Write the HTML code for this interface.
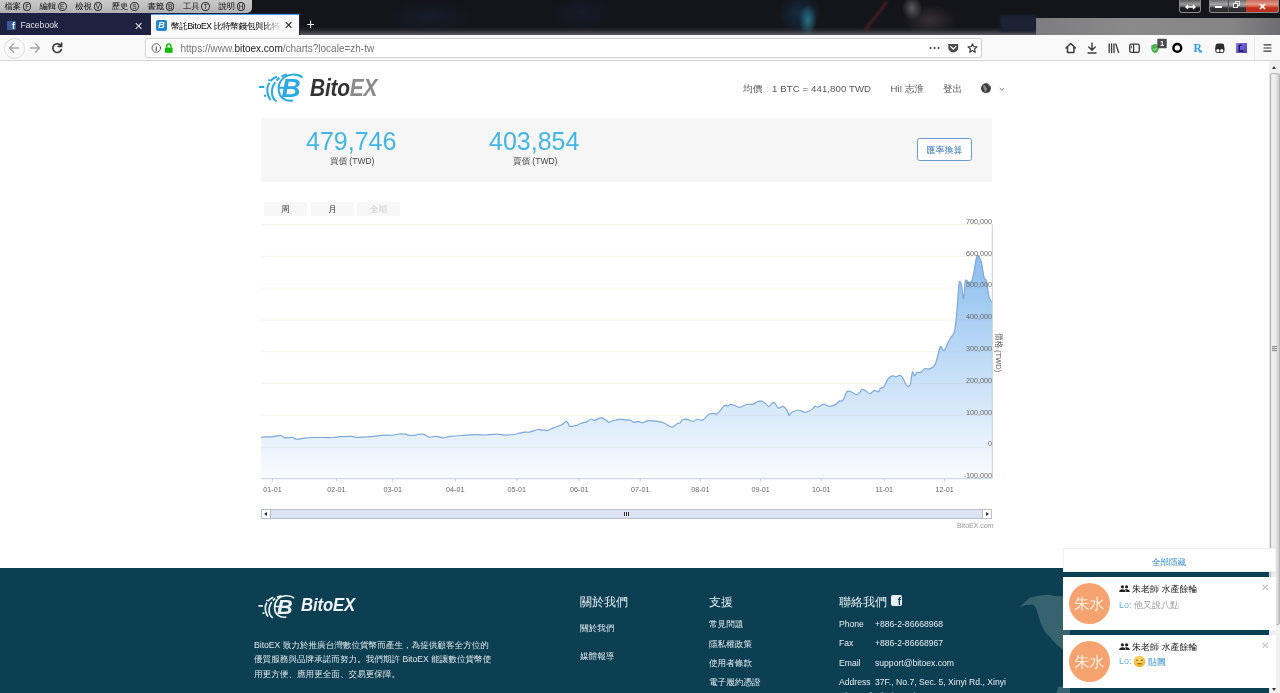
<!DOCTYPE html>
<html><head><meta charset="utf-8">
<style>
*{margin:0;padding:0;box-sizing:border-box}
html,body{width:1280px;height:693px;overflow:hidden;background:#fff;font-family:"Liberation Sans","WenQuanYi Zen Hei","Noto Sans CJK TC",sans-serif}
.a{position:absolute}
#wall{left:0;top:0;width:1280px;height:35px;background:
radial-gradient(ellipse 9px 16px at 808px 20px,rgba(45,140,160,.75),transparent),
radial-gradient(ellipse 22px 20px at 800px 14px,rgba(25,60,95,.6),transparent),
radial-gradient(ellipse 40px 18px at 430px 16px,rgba(25,35,60,.5),transparent),
radial-gradient(ellipse 30px 18px at 582px 12px,rgba(25,35,60,.45),transparent),
radial-gradient(ellipse 10px 12px at 912px 8px,rgba(150,145,145,.55),transparent),
radial-gradient(ellipse 26px 16px at 930px 20px,rgba(95,80,80,.45),transparent),
linear-gradient(#131419,#14161b 78%,#2a2c31 88%,#5a5c60);}
#menu{left:0;top:0;width:252px;height:13px;background:linear-gradient(#c9c9c9,#bdbdbd 60%,#b0b0b0);border-radius:0 0 5px 0;font-size:8.3px;color:#0a0a0a;}
#menu .ci{display:inline-block;font-style:normal;width:8.6px;height:9px;border:0.9px solid #333;border-radius:50%;font-size:6.6px;line-height:7.6px;text-align:center;margin-left:1.8px;vertical-align:0px;color:#111}
#menu span{position:absolute;top:1px;white-space:nowrap;font-family:"Liberation Sans","WenQuanYi Zen Hei",sans-serif}
#tabbar{left:0;top:13px;width:300px;height:22px;background:#1f2140}
.tabt{font-size:8.6px;white-space:nowrap}
#toolbar{left:0;top:35px;width:1280px;height:26px;background:#f9f9fa;border-bottom:1px solid #d6d6d6}
#url{left:145px;top:38px;width:837px;height:20px;background:#fff;border:1px solid #cfcfd4;border-radius:2px}
#page{left:0;top:61px;width:1269px;height:632px;background:#fff;overflow:hidden}
#vscroll{left:1269px;top:61px;width:11px;height:632px;background:#f0f0f0;border-left:1px solid #e4e4e4}
#footer{left:0;top:568px;width:1269px;height:125px;background:#0d3f52}
.ft{color:#e6eef2;white-space:nowrap}
</style></head><body>

<!-- desktop wallpaper strip -->
<div id="wall" class="a"></div>
<div class="a" style="left:875px;top:-2px;width:2px;height:36px;background:rgba(140,40,40,.55);transform:rotate(38deg);filter:blur(1px)"></div>
<div class="a" style="left:1000px;top:15px;width:36px;height:17px;background:#1c2233;filter:blur(1px)"></div>
<div class="a" style="left:1036px;top:18px;width:244px;height:17px;background:linear-gradient(90deg,#7d7d7f,#8a8a8b 40%,#858586 80%,#6e6e70)"></div>

<!-- menu -->
<div id="menu" class="a">
<span style="left:4.5px">檔案<i class="ci">F</i></span><span style="left:39.6px">編輯<i class="ci">E</i></span><span style="left:75.2px">檢視<i class="ci">V</i></span><span style="left:111.8px">歷史<i class="ci">S</i></span><span style="left:147.4px">書籤<i class="ci">B</i></span><span style="left:183px">工具<i class="ci">T</i></span><span style="left:218.5px">說明<i class="ci">H</i></span>
</div>

<!-- window buttons -->
<div class="a" style="left:1179px;top:0;width:22px;height:12.5px;border:1px solid #8a8a8a;border-top:none;border-radius:0 0 3px 3px;background:linear-gradient(#5a5a5c,#9a9a9c 35%,#6a6a6c 55%,#1c1c1e 65%,#1a1a1c)"></div>
<svg class="a" style="left:1184.5px;top:3.5px" width="11" height="6" viewBox="0 0 11 6"><path d="M1 3 H10 M3 1 L1 3 L3 5 M8 1 L10 3 L8 5" fill="none" stroke="#fff" stroke-width="1.3"/></svg>
<div class="a" style="left:1209px;top:0;width:70px;height:12.5px;border:1px solid #8a8a8a;border-top:none;border-radius:0 0 3px 3px;background:linear-gradient(#6a6a6c,#a6a6a8 35%,#7a7a7c 55%,#333336 65%,#2a2a2c)"></div>
<div class="a" style="left:1228px;top:0;width:1px;height:12px;background:#555"></div>
<div class="a" style="left:1214.5px;top:5.5px;width:7px;height:2px;background:#fff"></div>
<div class="a" style="left:1234.5px;top:1.2px;width:5px;height:5px;border:1px solid #ddd"></div><div class="a" style="left:1233px;top:2.8px;width:5px;height:5px;border:1.3px solid #eee;background:#555"></div>
<div class="a" style="left:1246px;top:0;width:33px;height:12.5px;border:1px solid #8a8a8a;border-top:none;border-left:none;border-radius:0 0 3px 0;background:linear-gradient(#c86a5a,#e59a88 35%,#d65a40 55%,#c0301a 65%,#b83020)"></div>
<svg class="a" style="left:1258.5px;top:2.5px" width="7" height="7" viewBox="0 0 7 7"><path d="M1 1 L6 6 M6 1 L1 6" stroke="#fff" stroke-width="1.7"/></svg>

<!-- tabs -->
<div id="tabbar" class="a"></div>
<div class="a" style="left:7px;top:21px;width:9px;height:9px;background:#3b5998;border-radius:1px;color:#fff;font:bold 9px 'Liberation Sans';text-align:right;line-height:11px;overflow:hidden;padding-right:1px">f</div>
<div class="a tabt" style="left:20.5px;top:19.6px;color:#e0e0ea">Facebook</div>
<div class="a" style="left:134px;top:19.5px;color:#ddd;font-size:11px">✕</div>
<div class="a" style="left:151px;top:14px;width:148px;height:21px;background:#f9f9fa;border-top:1.5px solid #4a9cef"></div>
<div class="a" style="left:156px;top:19.5px;width:11px;height:11px;background:#1f8ad3;border-radius:2px;color:#fff;font:italic bold 9px 'Liberation Sans';text-align:center;line-height:11px">B</div>
<div class="a tabt" style="left:171px;top:20.5px;color:#000;letter-spacing:-0.35px;width:110px;overflow:hidden;-webkit-mask-image:linear-gradient(90deg,#000 85%,transparent)">幣託BitoEX 比特幣錢包與比特幣</div>
<div class="a" style="left:284px;top:19px;color:#222;font-size:11px">✕</div>
<div class="a" style="left:306.5px;top:16px;color:#eee;font-size:14px">+</div>

<!-- toolbar -->
<div id="toolbar" class="a"></div>
<div id="url" class="a"></div>
<!-- toolbar icons -->
<div class="a" style="left:3.5px;top:37.5px;width:21px;height:21px;border-radius:50%;border:1px solid #dcdcdc;background:#f9f9fa"></div>
<svg class="a" style="left:0;top:35px" width="1280" height="26" viewBox="0 35 1280 26">
<g fill="none" stroke-linecap="round" stroke-linejoin="round">
<path d="M9.5 48 H18.5 M13.5 43.8 L9.5 48 L13.5 52.2" stroke="#a8a8aa" stroke-width="1.5"/>
<path d="M30.5 48 H39.5 M35.5 43.8 L39.5 48 L35.5 52.2" stroke="#a8a8aa" stroke-width="1.5"/>
<path d="M60.8 45.5 A4.4 4.4 0 1 0 61.4 49.5" stroke="#333" stroke-width="1.6"/>
<path d="M61.6 43 V46.4 H58.2" stroke="#333" stroke-width="1.6"/>
<circle cx="156.3" cy="48" r="4.3" stroke="#555" stroke-width="0.9"/>
<path d="M156.3 46.8 V50.5" stroke="#555" stroke-width="1.1"/>
<path d="M1066 48 L1070.7 43.5 L1075.4 48 M1067.5 46.8 V52.5 H1073.9 V46.8" stroke="#3b3b3b" stroke-width="1.5"/>
<path d="M1092 43 V50 M1088.8 47 L1092 50.2 L1095.2 47 M1088 53 H1096" stroke="#3b3b3b" stroke-width="1.4"/>
<path d="M1109.2 44 V52.5 M1111.6 44 V52.5 M1114 44 V52.5 M1115.8 44 L1118.6 52.5" stroke="#3b3b3b" stroke-width="1.3"/>
<rect x="1129.7" y="44.2" width="9.6" height="8.2" rx="1.6" stroke="#3b3b3b" stroke-width="1.3"/>
<path d="M1133.6 44.5 V52.2" stroke="#3b3b3b" stroke-width="1.3"/>
<path d="M1131.4 46 V48" stroke="#3b3b3b" stroke-width="0.9"/>
<circle cx="1177.3" cy="47.9" r="3.9" stroke="#000" stroke-width="2.4"/>
<path d="M1264 44.8 H1271 M1264 48 H1271 M1264 51.2 H1271" stroke="#3b3b3b" stroke-width="1.2"/>
<path d="M930.5 48 h0.1 M934.5 48 h0.1 M938.5 48 h0.1" stroke="#444" stroke-width="2"/>
<path d="M968 46.8 L971.3 46.6 L972.5 43.7 L973.7 46.6 L977 46.8 L974.5 49 L975.3 52.3 L972.5 50.5 L969.7 52.3 L970.5 49 Z" stroke="#3b3b3b" stroke-width="1.1"/>
</g>
<path d="M948.3 44 H958.2 V47.6 A4.95 4.95 0 0 1 948.3 47.6 Z" fill="#4a4a4f"/>
<path d="M950.8 46.6 L953.25 49 L955.7 46.6" fill="none" stroke="#fff" stroke-width="1.3" stroke-linecap="round" stroke-linejoin="round"/>
<path d="M165 47.5 H172.6 V52.8 H165 Z" fill="#12bc00"/>
<path d="M166.7 47.6 V46 A2.1 2.1 0 0 1 170.9 46 V47.6" fill="none" stroke="#12bc00" stroke-width="1.5"/>
<path d="M1151.2 45.5 L1155 43.8 L1158.8 45.5 V48.5 C1158.8 50.8 1157 52.4 1155 53.2 C1153 52.4 1151.2 50.8 1151.2 48.5 Z" fill="#4caf50"/>
<path d="M1153.2 48.8 L1154.6 50.2 L1157 47.6" fill="none" stroke="#c9f0c9" stroke-width="0.9"/>
<rect x="1157.3" y="38.8" width="9.4" height="9.4" rx="0.8" fill="#4b4b4d"/>
<text x="1162" y="46.3" font-family="Liberation Sans" font-size="7.5" font-weight="bold" fill="#fff" text-anchor="middle">1</text>
<text x="1193.6" y="52.3" font-family="Liberation Serif" font-size="11.5" font-weight="bold" fill="#2a9fd8">R</text>
<text x="1199" y="53" font-family="Liberation Serif" font-size="7" font-weight="bold" fill="#2a9fd8">x</text>
<path d="M1215.5 46 Q1215.5 43.4 1218 43.4 H1221.8 Q1224.2 43.4 1224.2 46 V49.5 H1215.5 Z" fill="#2b2b2b"/>
<path d="M1215.3 47.4 H1224.4 V51 Q1224.4 53 1222.4 53 H1217.3 Q1215.3 53 1215.3 51 Z" fill="#2b2b2b"/>
<circle cx="1217.9" cy="50.7" r="1.6" fill="#fff"/><circle cx="1221.8" cy="50.7" r="1.6" fill="#fff"/>
<defs><linearGradient id="pp" x1="0" y1="0" x2="1" y2="1"><stop offset="0" stop-color="#8a7af0"/><stop offset="1" stop-color="#4b3fb8"/></linearGradient></defs>
<rect x="1236" y="43" width="11" height="10" fill="url(#pp)"/>
<path d="M1239.2 45.2 V51 H1243.5 M1239.2 45.2 H1241.6" fill="none" stroke="#1a1440" stroke-width="1.4"/>
<path d="M1254.5 36 V60" stroke="#e4e4e6" stroke-width="0.8"/>
</svg>
<div class="a" style="left:180.5px;top:43.2px;font-size:10px;color:#737373;white-space:nowrap;letter-spacing:0">https://www.<span style="color:#1a1a1a">bitoex.com</span>/charts?locale=zh-tw</div>


<!-- page -->
<div id="page" class="a"></div>
<!-- site header -->
<svg class="a" style="left:256px;top:70px" width="48.0" height="34.0" viewBox="0 0 48 34">
<g fill="none" stroke="#29a9e6" stroke-width="2" stroke-linecap="butt">
<path d="M46.5,7.5 C42,3.5 31,3 25.5,10 C21,16 22,25 27,28.5 C30,31 34,31 37,30.5"/>
<path d="M31,4.6 C24,6 17,12 16,20 C15.5,25 17.5,29.5 20.5,31.5" stroke-dasharray="6 2.2 4 2 30"/>
<path d="M21,6.5 C15,9 11.5,14 11.3,19 C11.3,24 12.5,27.5 14.7,30" stroke-dasharray="8 2 30"/>
<path d="M2.9,16.9 H8.3 M7.9,25.8 H10.3 M12.3,10.3 H14.2 M23,17.7 H28.5"/>
</g>
<text transform="translate(25.6,26.6) scale(1.06,1)" font-family="Liberation Sans" font-weight="bold" font-style="italic" font-size="25" fill="#29a9e6">B</text>
</svg>
<div class="a" style="left:309.5px;top:74.8px;font:italic bold 23.2px 'Liberation Sans';color:#333;letter-spacing:-0.2px;transform:scaleX(0.9);transform-origin:0 0">Bito<span style="color:#8a8a8a">EX</span></div>

<div class="a" style="left:743px;top:82.5px;font-size:9.6px;color:#555;white-space:nowrap;letter-spacing:0.1px">均價<span style="color:#c8c8c8">：</span>1 BTC = 441,800 TWD</div>
<div class="a" style="left:890.5px;top:82.5px;font-size:9.6px;color:#555;white-space:nowrap">Hi! 志淮</div>
<div class="a" style="left:943px;top:82.5px;font-size:9.6px;color:#555;white-space:nowrap">登出</div>
<svg class="a" style="left:980px;top:83px" width="26" height="11" viewBox="980 83 26 11">
<circle cx="986" cy="88.2" r="4.9" fill="#3c3c3c"/>
<path d="M983.2 85.3 Q984.8 84.8 985.6 86 Q985.2 87.6 986.8 88 Q987.6 89.4 986.4 90.2 Q986 91.8 985.2 92.6 Q984.4 91 984.2 89.6 Q982.8 88.6 983.2 85.3 Z M987.6 84.3 Q989.6 84.6 990.4 86.4 Q989 86.6 988.2 86 Z" fill="#8a8a8a"/>
<path d="M999.8 88.2 L1001.8 90 L1003.8 88.2" fill="none" stroke="#666" stroke-width="0.9"/>
</svg>

<!-- price panel -->
<div class="a" style="left:261px;top:118px;width:731px;height:64px;background:#f6f6f6"></div>
<div class="a" style="left:306px;top:127px;font-size:25px;color:#44b6e6;white-space:nowrap">479,746</div>
<div class="a" style="left:330px;top:156px;font-size:8.5px;color:#444;white-space:nowrap">買價 (TWD)</div>
<div class="a" style="left:489px;top:127px;font-size:25px;color:#44b6e6;white-space:nowrap">403,854</div>
<div class="a" style="left:513px;top:156px;font-size:8.5px;color:#444;white-space:nowrap">賣價 (TWD)</div>
<div class="a" style="left:917px;top:138px;width:55px;height:23px;border:1px solid #6b9dce;border-radius:2.5px;background:#fff;color:#3a77b8;font-size:9px;text-align:center;line-height:23px">匯率換算</div>

<!-- range buttons -->
<div class="a" style="left:264px;top:202px;width:43px;height:14px;background:#f7f7f7;font-size:8.5px;color:#333;text-align:center;line-height:14px">周</div>
<div class="a" style="left:311px;top:202px;width:43px;height:14px;background:#f7f7f7;font-size:8.5px;color:#333;text-align:center;line-height:14px">月</div>
<div class="a" style="left:357px;top:202px;width:43px;height:14px;background:#f7f7f7;font-size:8.5px;color:#ccc;text-align:center;line-height:14px">全期</div>
<svg class="a" style="left:0;top:0" width="1280" height="693" viewBox="0 0 1280 693" font-family="Liberation Sans" font-size="7.2" fill="#666">
<defs><linearGradient id="gf" x1="0" y1="224.5" x2="0" y2="478.5" gradientUnits="userSpaceOnUse"><stop offset="0" stop-color="#7cb5ec" stop-opacity="1"/><stop offset="1" stop-color="#7cb5ec" stop-opacity="0.04"/></linearGradient></defs>
<line x1="261" x2="992" y1="224.5" y2="224.5" stroke="#f3f1e6" stroke-width="0.8"/>
<line x1="261" x2="992" y1="256.3" y2="256.3" stroke="#f3f1e6" stroke-width="0.8"/>
<line x1="261" x2="992" y1="288.1" y2="288.1" stroke="#f3f1e6" stroke-width="0.8"/>
<line x1="261" x2="992" y1="319.9" y2="319.9" stroke="#f3f1e6" stroke-width="0.8"/>
<line x1="261" x2="992" y1="351.7" y2="351.7" stroke="#f3f1e6" stroke-width="0.8"/>
<line x1="261" x2="992" y1="383.5" y2="383.5" stroke="#f3f1e6" stroke-width="0.8"/>
<line x1="261" x2="992" y1="415.3" y2="415.3" stroke="#f3f1e6" stroke-width="0.8"/>
<line x1="261" x2="992" y1="447.1" y2="447.1" stroke="#f3f1e6" stroke-width="0.8"/>
<path d="M261.1,437.3 C261.9,437.2 263.7,437.0 265.8,436.9 C267.9,436.8 271.1,436.9 273.6,436.6 C276.1,436.4 278.8,435.2 280.7,435.4 C282.6,435.6 283.1,437.6 285.0,437.9 C286.9,438.2 290.5,437.1 292.4,437.3 C294.3,437.5 294.2,439.1 296.3,439.2 C298.4,439.3 302.2,438.4 304.9,438.1 C307.6,437.8 308.1,437.6 312.7,437.5 C317.2,437.4 327.6,437.6 332.2,437.5 C336.8,437.4 336.7,436.9 340.0,436.7 C343.3,436.5 349.2,436.2 351.8,436.3 C354.4,436.4 353.1,437.2 355.7,437.3 C358.3,437.4 363.1,437.2 367.5,436.9 C371.9,436.6 378.1,435.6 382.3,435.3 C386.5,435.0 389.8,435.4 392.5,435.2 C395.2,435.0 396.6,434.2 398.8,434.0 C401.0,433.8 404.1,434.0 405.8,434.2 C407.5,434.4 407.2,435.1 408.9,435.3 C410.6,435.5 414.5,435.4 415.9,435.2 C417.3,435.0 416.2,434.5 417.5,434.4 C418.8,434.3 421.9,433.9 423.8,434.4 C425.8,434.8 427.1,436.8 429.2,437.1 C431.3,437.4 433.8,436.2 436.2,436.3 C438.6,436.4 441.2,437.8 443.3,437.9 C445.4,438.0 445.7,437.1 448.8,436.7 C451.9,436.3 457.2,435.8 461.7,435.5 C466.2,435.2 471.9,434.8 475.8,434.7 C479.7,434.6 481.7,435.1 485.2,435.0 C488.7,434.9 493.6,434.2 496.9,434.2 C500.1,434.2 501.8,434.9 504.7,435.0 C507.6,435.1 511.4,434.9 514.0,434.5 C516.6,434.1 518.5,433.3 520.3,432.9 C522.1,432.5 523.4,432.2 525.0,432.1 C526.6,432.0 527.6,432.5 529.7,432.1 C531.8,431.7 535.4,429.8 537.5,429.5 C539.6,429.2 541.0,430.1 542.2,430.2 C543.5,430.3 544.1,430.1 545.0,430.2 C545.9,430.3 546.0,431.0 547.3,430.7 C548.6,430.4 550.6,429.0 552.8,428.1 C555.0,427.2 558.8,426.0 560.6,425.2 C562.4,424.4 562.9,423.9 563.8,423.3 C564.6,422.7 565.1,421.4 565.7,421.3 C566.4,421.2 567.1,421.7 567.7,422.5 C568.4,423.3 568.6,425.6 569.6,426.2 C570.6,426.8 572.5,426.2 573.9,426.0 C575.3,425.8 576.6,425.4 577.8,425.0 C579.0,424.6 579.3,423.9 580.9,423.3 C582.5,422.7 585.5,422.3 587.2,421.6 C588.9,420.9 589.9,419.2 591.1,419.0 C592.3,418.8 592.8,420.4 594.2,420.3 C595.6,420.2 598.3,418.6 599.7,418.2 C601.1,417.8 601.6,417.6 602.4,417.8 C603.2,418.0 603.7,418.9 604.4,419.4 C605.1,419.8 606.0,420.0 606.7,420.5 C607.4,421.0 607.5,422.3 608.7,422.3 C609.9,422.3 611.9,421.0 613.8,420.5 C615.7,420.0 618.0,419.5 620.0,419.4 C622.0,419.3 623.7,419.6 625.5,419.8 C627.3,420.0 629.6,420.1 630.9,420.5 C632.2,420.9 632.0,421.9 633.3,422.1 C634.6,422.3 637.2,421.5 638.8,421.6 C640.4,421.7 641.3,422.8 642.8,422.7 C644.2,422.6 645.3,421.2 647.5,420.9 C649.7,420.6 653.2,420.7 656.1,421.1 C659.0,421.5 662.1,422.3 664.7,423.3 C667.3,424.3 669.6,426.9 671.7,427.0 C673.8,427.1 675.8,424.5 677.2,423.8 C678.6,423.1 679.5,423.4 680.3,422.7 C681.1,422.0 681.0,420.5 681.9,419.9 C682.8,419.3 684.5,419.1 685.8,419.1 C687.1,419.2 688.5,419.8 689.7,420.2 C690.9,420.6 691.6,421.6 692.8,421.5 C694.0,421.4 695.0,419.8 696.7,419.5 C698.4,419.2 701.0,420.7 703.0,419.9 C705.0,419.1 706.7,415.6 708.4,414.5 C710.1,413.4 711.8,413.4 713.1,413.3 C714.4,413.2 715.2,414.4 716.2,414.1 C717.2,413.8 718.2,412.9 719.4,411.7 C720.6,410.4 722.3,407.7 723.3,406.6 C724.3,405.5 724.8,405.2 725.6,405.1 C726.4,405.0 727.2,406.3 728.0,406.2 C728.8,406.1 729.2,404.4 730.3,404.3 C731.4,404.2 733.1,405.0 734.7,405.5 C736.3,406.0 737.8,407.5 739.8,407.3 C741.8,407.1 744.1,405.0 746.4,404.5 C748.7,404.0 751.6,404.7 753.4,404.2 C755.2,403.7 755.7,402.2 757.0,401.7 C758.3,401.2 759.8,401.0 761.2,401.2 C762.6,401.4 764.0,402.0 765.2,402.9 C766.5,403.8 767.5,406.7 768.7,406.6 C769.9,406.5 771.6,403.1 772.6,402.5 C773.6,401.9 773.9,402.4 774.9,403.3 C775.9,404.2 777.0,407.6 778.4,408.1 C779.8,408.6 781.7,406.0 783.1,406.4 C784.5,406.8 786.0,408.8 787.0,410.3 C788.0,411.8 788.4,414.9 789.0,415.4 C789.6,415.8 789.7,413.8 790.9,413.0 C792.1,412.2 794.8,410.9 796.4,410.5 C798.0,410.1 799.0,410.2 800.3,410.5 C801.6,410.8 802.8,412.2 804.2,412.3 C805.6,412.4 807.6,411.7 808.9,411.2 C810.2,410.7 811.0,410.2 812.0,409.4 C813.0,408.6 814.2,406.8 815.2,406.4 C816.2,406.0 816.9,407.4 818.3,407.0 C819.7,406.6 822.0,404.3 823.8,404.2 C825.6,404.1 827.4,406.2 829.3,406.3 C831.2,406.4 833.7,405.5 835.4,404.6 C837.1,403.7 838.5,401.5 839.7,400.9 C840.9,400.2 841.6,402.1 842.7,400.7 C843.9,399.2 845.5,393.8 846.6,392.2 C847.7,390.6 848.2,391.2 849.2,391.3 C850.2,391.4 851.5,391.9 852.7,392.5 C853.9,393.1 855.5,394.8 856.6,394.8 C857.8,394.8 858.7,393.6 859.6,392.7 C860.5,391.8 861.2,389.6 862.2,389.3 C863.2,389.0 864.4,390.0 865.7,390.7 C867.0,391.4 868.5,393.7 870.0,393.6 C871.5,393.5 873.0,390.6 874.4,390.3 C875.8,390.0 877.2,392.2 878.2,391.9 C879.2,391.6 879.5,389.3 880.4,388.4 C881.3,387.5 882.6,388.3 883.9,386.7 C885.2,385.1 886.8,380.4 888.2,378.6 C889.6,376.8 891.2,376.1 892.5,375.8 C893.8,375.5 894.8,377.0 896.0,376.9 C897.2,376.8 898.5,375.4 899.5,375.4 C900.5,375.4 900.8,375.1 902.1,376.9 C903.4,378.7 905.8,384.8 907.2,386.0 C908.6,387.2 909.4,386.4 910.3,384.1 C911.2,381.8 911.7,373.5 912.4,372.1 C913.1,370.8 913.9,375.9 914.6,376.0 C915.3,376.1 915.7,373.2 916.8,372.6 C917.9,372.0 919.8,372.8 921.1,372.1 C922.4,371.5 923.1,369.3 924.6,368.7 C926.1,368.1 928.3,369.4 930.1,368.7 C931.9,367.9 933.5,367.8 935.2,364.2 C936.9,360.6 938.9,349.5 940.2,347.1 C941.5,344.8 942.4,349.8 943.2,350.1 C944.0,350.4 944.4,350.5 945.2,349.1 C946.1,347.8 947.4,343.9 948.3,342.0 C949.2,340.1 949.8,339.2 950.8,337.5 C951.8,335.8 953.4,335.6 954.4,331.7 C955.4,327.8 956.0,320.4 956.6,314.4 C957.2,308.4 957.6,300.9 958.0,295.6 C958.4,290.4 958.8,285.1 959.2,282.9 C959.6,280.7 960.1,281.4 960.6,282.3 C961.1,283.2 961.6,285.7 962.0,288.4 C962.4,291.1 962.8,297.6 963.1,298.5 C963.5,299.4 963.8,296.9 964.1,294.1 C964.5,291.3 964.8,284.1 965.2,281.8 C965.6,279.5 966.1,280.3 966.7,280.4 C967.3,280.5 968.0,282.2 968.8,282.3 C969.6,282.4 971.0,282.3 971.7,281.1 C972.4,279.9 972.7,277.5 973.2,275.3 C973.7,273.1 974.1,270.7 974.6,268.1 C975.1,265.5 975.6,261.6 976.1,259.5 C976.6,257.4 977.0,255.8 977.5,255.4 C978.0,255.0 978.5,256.6 979.0,257.3 C979.5,258.0 979.9,258.4 980.4,259.5 C980.9,260.6 981.4,261.9 981.8,263.8 C982.2,265.7 982.5,268.6 982.9,271.0 C983.3,273.4 983.8,276.6 984.3,278.2 C984.8,279.8 985.7,278.7 986.2,280.4 C986.8,282.1 987.1,285.6 987.6,288.4 C988.1,291.2 988.5,294.8 989.1,297.0 C989.7,299.2 990.7,300.6 991.2,301.4 C991.7,302.2 991.9,301.9 992.0,302.0 L992,478.5 L261.1,478.5 Z" fill="url(#gf)"/>
<path d="M261.1,437.3 C261.9,437.2 263.7,437.0 265.8,436.9 C267.9,436.8 271.1,436.9 273.6,436.6 C276.1,436.4 278.8,435.2 280.7,435.4 C282.6,435.6 283.1,437.6 285.0,437.9 C286.9,438.2 290.5,437.1 292.4,437.3 C294.3,437.5 294.2,439.1 296.3,439.2 C298.4,439.3 302.2,438.4 304.9,438.1 C307.6,437.8 308.1,437.6 312.7,437.5 C317.2,437.4 327.6,437.6 332.2,437.5 C336.8,437.4 336.7,436.9 340.0,436.7 C343.3,436.5 349.2,436.2 351.8,436.3 C354.4,436.4 353.1,437.2 355.7,437.3 C358.3,437.4 363.1,437.2 367.5,436.9 C371.9,436.6 378.1,435.6 382.3,435.3 C386.5,435.0 389.8,435.4 392.5,435.2 C395.2,435.0 396.6,434.2 398.8,434.0 C401.0,433.8 404.1,434.0 405.8,434.2 C407.5,434.4 407.2,435.1 408.9,435.3 C410.6,435.5 414.5,435.4 415.9,435.2 C417.3,435.0 416.2,434.5 417.5,434.4 C418.8,434.3 421.9,433.9 423.8,434.4 C425.8,434.8 427.1,436.8 429.2,437.1 C431.3,437.4 433.8,436.2 436.2,436.3 C438.6,436.4 441.2,437.8 443.3,437.9 C445.4,438.0 445.7,437.1 448.8,436.7 C451.9,436.3 457.2,435.8 461.7,435.5 C466.2,435.2 471.9,434.8 475.8,434.7 C479.7,434.6 481.7,435.1 485.2,435.0 C488.7,434.9 493.6,434.2 496.9,434.2 C500.1,434.2 501.8,434.9 504.7,435.0 C507.6,435.1 511.4,434.9 514.0,434.5 C516.6,434.1 518.5,433.3 520.3,432.9 C522.1,432.5 523.4,432.2 525.0,432.1 C526.6,432.0 527.6,432.5 529.7,432.1 C531.8,431.7 535.4,429.8 537.5,429.5 C539.6,429.2 541.0,430.1 542.2,430.2 C543.5,430.3 544.1,430.1 545.0,430.2 C545.9,430.3 546.0,431.0 547.3,430.7 C548.6,430.4 550.6,429.0 552.8,428.1 C555.0,427.2 558.8,426.0 560.6,425.2 C562.4,424.4 562.9,423.9 563.8,423.3 C564.6,422.7 565.1,421.4 565.7,421.3 C566.4,421.2 567.1,421.7 567.7,422.5 C568.4,423.3 568.6,425.6 569.6,426.2 C570.6,426.8 572.5,426.2 573.9,426.0 C575.3,425.8 576.6,425.4 577.8,425.0 C579.0,424.6 579.3,423.9 580.9,423.3 C582.5,422.7 585.5,422.3 587.2,421.6 C588.9,420.9 589.9,419.2 591.1,419.0 C592.3,418.8 592.8,420.4 594.2,420.3 C595.6,420.2 598.3,418.6 599.7,418.2 C601.1,417.8 601.6,417.6 602.4,417.8 C603.2,418.0 603.7,418.9 604.4,419.4 C605.1,419.8 606.0,420.0 606.7,420.5 C607.4,421.0 607.5,422.3 608.7,422.3 C609.9,422.3 611.9,421.0 613.8,420.5 C615.7,420.0 618.0,419.5 620.0,419.4 C622.0,419.3 623.7,419.6 625.5,419.8 C627.3,420.0 629.6,420.1 630.9,420.5 C632.2,420.9 632.0,421.9 633.3,422.1 C634.6,422.3 637.2,421.5 638.8,421.6 C640.4,421.7 641.3,422.8 642.8,422.7 C644.2,422.6 645.3,421.2 647.5,420.9 C649.7,420.6 653.2,420.7 656.1,421.1 C659.0,421.5 662.1,422.3 664.7,423.3 C667.3,424.3 669.6,426.9 671.7,427.0 C673.8,427.1 675.8,424.5 677.2,423.8 C678.6,423.1 679.5,423.4 680.3,422.7 C681.1,422.0 681.0,420.5 681.9,419.9 C682.8,419.3 684.5,419.1 685.8,419.1 C687.1,419.2 688.5,419.8 689.7,420.2 C690.9,420.6 691.6,421.6 692.8,421.5 C694.0,421.4 695.0,419.8 696.7,419.5 C698.4,419.2 701.0,420.7 703.0,419.9 C705.0,419.1 706.7,415.6 708.4,414.5 C710.1,413.4 711.8,413.4 713.1,413.3 C714.4,413.2 715.2,414.4 716.2,414.1 C717.2,413.8 718.2,412.9 719.4,411.7 C720.6,410.4 722.3,407.7 723.3,406.6 C724.3,405.5 724.8,405.2 725.6,405.1 C726.4,405.0 727.2,406.3 728.0,406.2 C728.8,406.1 729.2,404.4 730.3,404.3 C731.4,404.2 733.1,405.0 734.7,405.5 C736.3,406.0 737.8,407.5 739.8,407.3 C741.8,407.1 744.1,405.0 746.4,404.5 C748.7,404.0 751.6,404.7 753.4,404.2 C755.2,403.7 755.7,402.2 757.0,401.7 C758.3,401.2 759.8,401.0 761.2,401.2 C762.6,401.4 764.0,402.0 765.2,402.9 C766.5,403.8 767.5,406.7 768.7,406.6 C769.9,406.5 771.6,403.1 772.6,402.5 C773.6,401.9 773.9,402.4 774.9,403.3 C775.9,404.2 777.0,407.6 778.4,408.1 C779.8,408.6 781.7,406.0 783.1,406.4 C784.5,406.8 786.0,408.8 787.0,410.3 C788.0,411.8 788.4,414.9 789.0,415.4 C789.6,415.8 789.7,413.8 790.9,413.0 C792.1,412.2 794.8,410.9 796.4,410.5 C798.0,410.1 799.0,410.2 800.3,410.5 C801.6,410.8 802.8,412.2 804.2,412.3 C805.6,412.4 807.6,411.7 808.9,411.2 C810.2,410.7 811.0,410.2 812.0,409.4 C813.0,408.6 814.2,406.8 815.2,406.4 C816.2,406.0 816.9,407.4 818.3,407.0 C819.7,406.6 822.0,404.3 823.8,404.2 C825.6,404.1 827.4,406.2 829.3,406.3 C831.2,406.4 833.7,405.5 835.4,404.6 C837.1,403.7 838.5,401.5 839.7,400.9 C840.9,400.2 841.6,402.1 842.7,400.7 C843.9,399.2 845.5,393.8 846.6,392.2 C847.7,390.6 848.2,391.2 849.2,391.3 C850.2,391.4 851.5,391.9 852.7,392.5 C853.9,393.1 855.5,394.8 856.6,394.8 C857.8,394.8 858.7,393.6 859.6,392.7 C860.5,391.8 861.2,389.6 862.2,389.3 C863.2,389.0 864.4,390.0 865.7,390.7 C867.0,391.4 868.5,393.7 870.0,393.6 C871.5,393.5 873.0,390.6 874.4,390.3 C875.8,390.0 877.2,392.2 878.2,391.9 C879.2,391.6 879.5,389.3 880.4,388.4 C881.3,387.5 882.6,388.3 883.9,386.7 C885.2,385.1 886.8,380.4 888.2,378.6 C889.6,376.8 891.2,376.1 892.5,375.8 C893.8,375.5 894.8,377.0 896.0,376.9 C897.2,376.8 898.5,375.4 899.5,375.4 C900.5,375.4 900.8,375.1 902.1,376.9 C903.4,378.7 905.8,384.8 907.2,386.0 C908.6,387.2 909.4,386.4 910.3,384.1 C911.2,381.8 911.7,373.5 912.4,372.1 C913.1,370.8 913.9,375.9 914.6,376.0 C915.3,376.1 915.7,373.2 916.8,372.6 C917.9,372.0 919.8,372.8 921.1,372.1 C922.4,371.5 923.1,369.3 924.6,368.7 C926.1,368.1 928.3,369.4 930.1,368.7 C931.9,367.9 933.5,367.8 935.2,364.2 C936.9,360.6 938.9,349.5 940.2,347.1 C941.5,344.8 942.4,349.8 943.2,350.1 C944.0,350.4 944.4,350.5 945.2,349.1 C946.1,347.8 947.4,343.9 948.3,342.0 C949.2,340.1 949.8,339.2 950.8,337.5 C951.8,335.8 953.4,335.6 954.4,331.7 C955.4,327.8 956.0,320.4 956.6,314.4 C957.2,308.4 957.6,300.9 958.0,295.6 C958.4,290.4 958.8,285.1 959.2,282.9 C959.6,280.7 960.1,281.4 960.6,282.3 C961.1,283.2 961.6,285.7 962.0,288.4 C962.4,291.1 962.8,297.6 963.1,298.5 C963.5,299.4 963.8,296.9 964.1,294.1 C964.5,291.3 964.8,284.1 965.2,281.8 C965.6,279.5 966.1,280.3 966.7,280.4 C967.3,280.5 968.0,282.2 968.8,282.3 C969.6,282.4 971.0,282.3 971.7,281.1 C972.4,279.9 972.7,277.5 973.2,275.3 C973.7,273.1 974.1,270.7 974.6,268.1 C975.1,265.5 975.6,261.6 976.1,259.5 C976.6,257.4 977.0,255.8 977.5,255.4 C978.0,255.0 978.5,256.6 979.0,257.3 C979.5,258.0 979.9,258.4 980.4,259.5 C980.9,260.6 981.4,261.9 981.8,263.8 C982.2,265.7 982.5,268.6 982.9,271.0 C983.3,273.4 983.8,276.6 984.3,278.2 C984.8,279.8 985.7,278.7 986.2,280.4 C986.8,282.1 987.1,285.6 987.6,288.4 C988.1,291.2 988.5,294.8 989.1,297.0 C989.7,299.2 990.7,300.6 991.2,301.4 C991.7,302.2 991.9,301.9 992.0,302.0" fill="none" stroke="#7ea8db" stroke-width="1.2" stroke-linejoin="round"/>
<line x1="261" x2="992.5" y1="478.7" y2="478.7" stroke="#c0d0e0" stroke-width="1"/>
<line x1="992.3" x2="992.3" y1="224.5" y2="478.7" stroke="#c0d0e0" stroke-width="1"/>
<line x1="272.5" x2="272.5" y1="478.5" y2="482" stroke="#c0d0e0" stroke-width="0.8"/>
<line x1="336.4" x2="336.4" y1="478.5" y2="482" stroke="#c0d0e0" stroke-width="0.8"/>
<line x1="392.7" x2="392.7" y1="478.5" y2="482" stroke="#c0d0e0" stroke-width="0.8"/>
<line x1="455.2" x2="455.2" y1="478.5" y2="482" stroke="#c0d0e0" stroke-width="0.8"/>
<line x1="516.8" x2="516.8" y1="478.5" y2="482" stroke="#c0d0e0" stroke-width="0.8"/>
<line x1="579.2" x2="579.2" y1="478.5" y2="482" stroke="#c0d0e0" stroke-width="0.8"/>
<line x1="640.2" x2="640.2" y1="478.5" y2="482" stroke="#c0d0e0" stroke-width="0.8"/>
<line x1="700.4" x2="700.4" y1="478.5" y2="482" stroke="#c0d0e0" stroke-width="0.8"/>
<line x1="760.6" x2="760.6" y1="478.5" y2="482" stroke="#c0d0e0" stroke-width="0.8"/>
<line x1="821.2" x2="821.2" y1="478.5" y2="482" stroke="#c0d0e0" stroke-width="0.8"/>
<line x1="884.2" x2="884.2" y1="478.5" y2="482" stroke="#c0d0e0" stroke-width="0.8"/>
<line x1="944.6" x2="944.6" y1="478.5" y2="482" stroke="#c0d0e0" stroke-width="0.8"/>
<text x="272.5" y="491.5" text-anchor="middle">01-01</text>
<text x="336.4" y="491.5" text-anchor="middle">02-01</text>
<text x="392.7" y="491.5" text-anchor="middle">03-01</text>
<text x="455.2" y="491.5" text-anchor="middle">04-01</text>
<text x="516.8" y="491.5" text-anchor="middle">05-01</text>
<text x="579.2" y="491.5" text-anchor="middle">06-01</text>
<text x="640.2" y="491.5" text-anchor="middle">07-01</text>
<text x="700.4" y="491.5" text-anchor="middle">08-01</text>
<text x="760.6" y="491.5" text-anchor="middle">09-01</text>
<text x="821.2" y="491.5" text-anchor="middle">10-01</text>
<text x="884.2" y="491.5" text-anchor="middle">11-01</text>
<text x="944.6" y="491.5" text-anchor="middle">12-01</text>
<text x="992" y="223.7" text-anchor="end">700,000</text>
<text x="992" y="255.5" text-anchor="end">600,000</text>
<text x="992" y="287.3" text-anchor="end">500,000</text>
<text x="992" y="319.1" text-anchor="end">400,000</text>
<text x="992" y="350.9" text-anchor="end">300,000</text>
<text x="992" y="382.7" text-anchor="end">200,000</text>
<text x="992" y="414.5" text-anchor="end">100,000</text>
<text x="992" y="446.3" text-anchor="end">0</text>
<text x="992" y="478.1" text-anchor="end">-100,000</text>
<text transform="translate(996,333) rotate(90)" font-family="Liberation Sans,Noto Sans CJK TC,sans-serif" font-size="7.5">價格 (TWD)</text>
</svg>
<!-- navigator scrollbar -->
<div class="a" style="left:261px;top:509px;width:731px;height:10px;background:#dde3f2;border:1px solid #b9bfcc"></div>
<div class="a" style="left:261px;top:509px;width:10px;height:10px;background:#fff;border:1px solid #b9bfcc"></div>
<div class="a" style="left:264px;top:512px;width:0;height:0;border-top:2.5px solid transparent;border-bottom:2.5px solid transparent;border-right:3px solid #333"></div>
<div class="a" style="left:982px;top:509px;width:10px;height:10px;background:#fff;border:1px solid #b9bfcc"></div>
<div class="a" style="left:986px;top:512px;width:0;height:0;border-top:2.5px solid transparent;border-bottom:2.5px solid transparent;border-left:3px solid #333"></div>
<div class="a" style="left:624px;top:512px;width:1px;height:4px;background:#333"></div>
<div class="a" style="left:626px;top:512px;width:1px;height:4px;background:#333"></div>
<div class="a" style="left:628px;top:512px;width:1px;height:4px;background:#333"></div>
<div class="a" style="left:957px;top:522px;font-size:7px;color:#999">BitoEX.com</div>

<div id="vscroll" class="a"></div>
<div class="a" style="left:1269px;top:61px;width:11px;height:12px;background:#f0f0f0"></div>
<div class="a" style="left:1272px;top:65.5px;width:0;height:0;border-left:2.7px solid transparent;border-right:2.7px solid transparent;border-bottom:3px solid #3a3a3a"></div>
<div class="a" style="left:1269.5px;top:73px;width:10.5px;height:552px;border:1px solid #b5b5b5;border-radius:2px;background:linear-gradient(90deg,#e4e4e4,#f1f1f1 25%,#e8e8e8 60%,#cdcdcd)"></div>
<div class="a" style="left:1272px;top:346px;width:5px;height:6px;background:repeating-linear-gradient(#8a8a8a 0 1px,#e0e0e0 1px 2px)"></div>
<div class="a" style="left:1272px;top:688px;width:0;height:0;border-left:2.7px solid transparent;border-right:2.7px solid transparent;border-top:3px solid #3a3a3a"></div>
<div id="footer" class="a"></div>
<!-- footer content -->
<svg class="a" style="left:256.3px;top:591.5px" width="39.4" height="27.9" viewBox="0 0 48 34">
<g fill="none" stroke="#eef3f5" stroke-width="2" stroke-linecap="butt">
<path d="M46.5,7.5 C42,3.5 31,3 25.5,10 C21,16 22,25 27,28.5 C30,31 34,31 37,30.5"/>
<path d="M31,4.6 C24,6 17,12 16,20 C15.5,25 17.5,29.5 20.5,31.5" stroke-dasharray="6 2.2 4 2 30"/>
<path d="M21,6.5 C15,9 11.5,14 11.3,19 C11.3,24 12.5,27.5 14.7,30" stroke-dasharray="8 2 30"/>
<path d="M2.9,16.9 H8.3 M7.9,25.8 H10.3 M12.3,10.3 H14.2 M23,17.7 H28.5"/>
</g>
<text transform="translate(25.6,26.6) scale(1.06,1)" font-family="Liberation Sans" font-weight="bold" font-style="italic" font-size="25" fill="#eef3f5">B</text>
</svg>
<div class="a ft" style="left:300.5px;top:594px;font:italic bold 18.6px 'Liberation Sans';color:#eef3f5;letter-spacing:-0.15px;transform:scaleX(0.9);transform-origin:0 0">BitoEX</div>
<div class="a ft" style="left:254px;top:638px;font-size:8.6px;line-height:14.4px;white-space:normal;width:245px;color:#dfe8ec">BitoEX 致力於推廣台灣數位貨幣而產生，為提供顧客全方位的<br>優質服務與品牌承諾而努力。我們期許 BitoEX 能讓數位貨幣使<br>用更方便、應用更全面、交易更保障。</div>
<div class="a ft" style="left:580px;top:593.5px;font-size:12px">關於我們</div>
<div class="a ft" style="left:580px;top:623.2px;font-size:8.6px">關於我們</div>
<div class="a ft" style="left:580px;top:650.5px;font-size:8.6px">媒體報導</div>
<div class="a ft" style="left:709px;top:593.5px;font-size:12px">支援</div>
<div class="a ft" style="left:709px;top:619.3px;font-size:8.6px">常見問題</div>
<div class="a ft" style="left:709px;top:638.6px;font-size:8.6px">隱私權政策</div>
<div class="a ft" style="left:709px;top:657.6px;font-size:8.6px">使用者條款</div>
<div class="a ft" style="left:709px;top:677.3px;font-size:8.6px">電子履約憑證</div>
<div class="a ft" style="left:839px;top:593.5px;font-size:12px">聯絡我們</div>
<div class="a" style="left:891px;top:595px;width:11px;height:11px;background:#e8eef2;border-radius:2px;color:#0d3f52;font:bold 10px 'Liberation Sans';text-align:right;line-height:13px;padding-right:1px;overflow:hidden">f</div>
<div class="a ft" style="left:839px;top:619px;font-size:8.6px">Phone</div>
<div class="a ft" style="left:875px;top:619px;font-size:8.6px">+886-2-86668968</div>
<div class="a ft" style="left:839px;top:638px;font-size:8.6px">Fax</div>
<div class="a ft" style="left:875px;top:638px;font-size:8.6px">+886-2-86668967</div>
<div class="a ft" style="left:839px;top:658px;font-size:8.6px">Email</div>
<div class="a ft" style="left:875px;top:658px;font-size:8.6px">support@bitoex.com</div>
<div class="a ft" style="left:839px;top:677px;font-size:8.6px">Address</div>
<div class="a ft" style="left:875px;top:677px;font-size:8.6px">37F., No.7, Sec. 5, Xinyi Rd., Xinyi</div>
<div class="a ft" style="left:839px;top:690.5px;font-size:8.6px">Dist., Taipei City, Taiwan</div>
<svg class="a" style="left:1010px;top:585px" width="60" height="110" viewBox="1010 585 60 110"><path d="M1019.3,607.2 L1026,601 L1030,597.5 L1040,595.5 L1048.5,594.8 L1056,596.2 L1070,596 L1070,655 L1057,645 L1051,638.3 L1045,632 L1041,624 L1038.5,616 L1036,608 L1033,604.5 L1026,605 Z" fill="#37636f"/><path d="M1058,687 L1070,686 L1070,695 L1056,695 Z" fill="#37636f"/></svg>

<!-- notifications -->
<div class="a" style="left:1063px;top:548px;width:213px;height:24px;background:#fff;border:1px solid #eee"></div>
<div class="a" style="left:1152px;top:556.5px;font-size:8.5px;color:#2e8bd0">全部隱藏</div>
<div class="a" style="left:1063px;top:577px;width:213px;height:53px;background:#fff"></div>
<div class="a" style="left:1063px;top:635px;width:213px;height:53px;background:#fff"></div>
<div class="a" style="left:1069px;top:583px;width:41px;height:41px;border-radius:50%;background:#f6a36f;color:#fff3e8;font-size:15px;text-align:center;line-height:41px">朱水</div>
<div class="a" style="left:1069px;top:641px;width:41px;height:41px;border-radius:50%;background:#f6a36f;color:#fff3e8;font-size:15px;text-align:center;line-height:41px">朱水</div>
<svg class="a" style="left:1119px;top:585px" width="11" height="7" viewBox="0 0 11 7"><circle cx="3.4" cy="1.8" r="1.6" fill="#222"/><circle cx="7.6" cy="1.8" r="1.6" fill="#222"/><path d="M0.2 7 Q0.3 4.2 3.4 4.2 Q6.5 4.2 6.6 7 Z M5.6 4.6 Q6.3 4.2 7.6 4.2 Q10.7 4.2 10.8 7 H7.3 Q7.2 5.4 5.6 4.6Z" fill="#222"/></svg>
<div class="a" style="left:1132px;top:582.5px;font-size:9px;color:#222;white-space:nowrap">朱老師 水產餘輪</div>
<div class="a" style="left:1119px;top:598.5px;font-size:9px;color:#999;white-space:nowrap"><span style="color:#6aaee0">Lo:</span> 他又說八點</div>
<div class="a" style="left:1261px;top:582px;font-size:10px;color:#bbb">✕</div>
<svg class="a" style="left:1119px;top:643px" width="11" height="7" viewBox="0 0 11 7"><circle cx="3.4" cy="1.8" r="1.6" fill="#222"/><circle cx="7.6" cy="1.8" r="1.6" fill="#222"/><path d="M0.2 7 Q0.3 4.2 3.4 4.2 Q6.5 4.2 6.6 7 Z M5.6 4.6 Q6.3 4.2 7.6 4.2 Q10.7 4.2 10.8 7 H7.3 Q7.2 5.4 5.6 4.6Z" fill="#222"/></svg>
<div class="a" style="left:1132px;top:640.5px;font-size:9px;color:#222;white-space:nowrap">朱老師 水產餘輪</div>
<div class="a" style="left:1119px;top:656px;font-size:9px;color:#999;white-space:nowrap"><span style="color:#6aaee0">Lo:</span></div>
<svg class="a" style="left:1132.5px;top:655px" width="13" height="13" viewBox="0 0 13 13"><defs><radialGradient id="em" cx="0.45" cy="0.35" r="0.7"><stop offset="0" stop-color="#ffe27a"/><stop offset="1" stop-color="#f2a91e"/></radialGradient></defs><circle cx="6.5" cy="6.5" r="5.8" fill="url(#em)"/><path d="M3.2 5.2 H5.4 M7.6 5.2 H9.8 M4.3 8.8 H8.7" stroke="#6b3b0a" stroke-width="0.9"/></svg>
<div class="a" style="left:1148px;top:656px;font-size:9px;color:#2e8bd0;white-space:nowrap">貼圖</div>
<div class="a" style="left:1261px;top:640px;font-size:10px;color:#bbb">✕</div>
</body></html>
